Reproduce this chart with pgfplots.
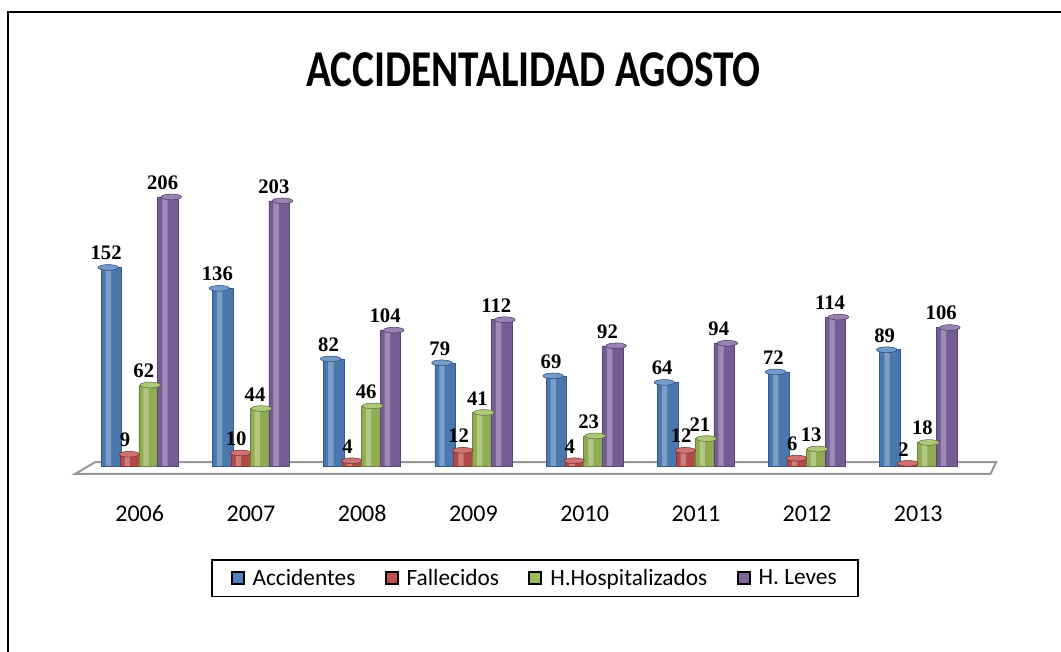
\documentclass[border=0pt]{standalone}
\usepackage{pgfplots}
\pgfplotsset{compat=1.18}
\usepackage{pgfplotstable}
\usepackage{fontspec}
\setmainfont{Carlito}
\newfontfamily\labelfont{Liberation Serif}
\definecolor{cA}{HTML}{4F81BD}
\definecolor{cB}{HTML}{C0504D}
\definecolor{cC}{HTML}{9BBB59}
\definecolor{cD}{HTML}{8064A2}
\pgfplotstableread{
year acc fal hos lev
2006 152 9 62 206
2007 136 10 44 203
2008 82 4 46 104
2009 79 12 41 112
2010 69 4 23 92
2011 64 12 21 94
2012 72 6 13 114
2013 89 2 18 106
}\datatable
\begin{document}
\begin{tikzpicture}
\path[use as bounding box] (0,0) rectangle (795.75pt,489pt);
\draw[line width=1.4pt] (6pt,0) -- (6pt,480pt) -- (796pt,480pt);
\node at (400pt,437pt) {\scalebox{1}[1.25]{\fontsize{31pt}{34pt}\selectfont\bfseries ACCIDENTALIDAD AGOSTO}};
\begin{axis}[
  at={(54.75pt,139.5pt)}, anchor=south west,
  scale only axis, width=684pt, height=225.3pt,
  xmin=2005.4, xmax=2013.6, ymin=0, ymax=230,
  axis line style={draw=none}, tick style={draw=none},
  ytick=\empty,
  xtick={2006,2007,2008,2009,2010,2011,2012,2013},
  xticklabels={2006,2007,2008,2009,2010,2011,2012,2013},
  typeset ticklabels with strut,
  xticklabel style={font=\fontsize{18pt}{20pt}\selectfont, yshift=-20pt},
  clip=false,
  /pgf/number format/assume math mode=true,
  ybar, bar width=15.4pt,
  nodes near coords,
  every node near coord/.append style={font=\labelfont\bfseries\fontsize{15.5pt}{17pt}\selectfont, xshift=-4pt, yshift=2pt},
  legend columns=4,
  legend style={at={(0.5066,-0.373)}, anchor=center, draw=black, line width=1.4pt,
    font=\fontsize{17.5pt}{19pt}\selectfont, inner xsep=14pt, inner ysep=5pt,
    /tikz/every even column/.append style={column sep=20pt}},
  legend image code/.code={\fill[#1] (0pt,-4.5pt) rectangle (9pt,4.5pt); \path (13pt,0pt);},
]
\draw[gray!80, line width=1.5pt, fill=white] (axis cs:2005.42,-6) -- (axis cs:2013.65,-6) -- (axis cs:2013.7,3) -- (axis cs:2005.6,3) -- cycle;
\addlegendimage{fill=cA}\addlegendentry{Accidentes}
\addlegendimage{fill=cB}\addlegendentry{Fallecidos}
\addlegendimage{fill=cC}\addlegendentry{H.Hospitalizados}
\addlegendimage{fill=cD}\addlegendentry{H. Leves}
% main bars
\addplot[forget plot, draw=cA!70!black, fill=cA!92!black, bar shift=-21.2pt] table[x=year,y=acc] {\datatable};
\addplot[forget plot, draw=cB!70!black, fill=cB!92!black, bar shift=-7.05pt] table[x=year,y=fal] {\datatable};
\addplot[forget plot, draw=cC!70!black, fill=cC!92!black, bar shift=7.05pt] table[x=year,y=hos] {\datatable};
\addplot[forget plot, draw=cD!70!black, fill=cD!92!black, bar shift=21.2pt] table[x=year,y=lev] {\datatable};
% highlights
\addplot[forget plot, draw=none, fill=cA!55!white, fill opacity=0.6, bar width=4pt, bar shift=-23.5pt, nodes near coords=] table[x=year,y=acc] {\datatable};
\addplot[forget plot, draw=none, fill=cB!55!white, fill opacity=0.6, bar width=4pt, bar shift=-9.35pt, nodes near coords=] table[x=year,y=fal] {\datatable};
\addplot[forget plot, draw=none, fill=cC!55!white, fill opacity=0.6, bar width=4pt, bar shift=4.75pt, nodes near coords=] table[x=year,y=hos] {\datatable};
\addplot[forget plot, draw=none, fill=cD!55!white, fill opacity=0.6, bar width=4pt, bar shift=18.9pt, nodes near coords=] table[x=year,y=lev] {\datatable};
% cylinder tops
\addplot[forget plot, only marks, mark=*, mark size=7.7pt, mark options={yscale=0.28, fill=cA!80!white, draw=cA!60!black}, nodes near coords=] table[x expr=\thisrow{year}-0.2835, y=acc] {\datatable};
\addplot[forget plot, only marks, mark=*, mark size=7.7pt, mark options={yscale=0.28, fill=cB!80!white, draw=cB!60!black}, nodes near coords=] table[x expr=\thisrow{year}-0.0945, y=fal] {\datatable};
\addplot[forget plot, only marks, mark=*, mark size=7.7pt, mark options={yscale=0.28, fill=cC!80!white, draw=cC!60!black}, nodes near coords=] table[x expr=\thisrow{year}+0.0945, y=hos] {\datatable};
\addplot[forget plot, only marks, mark=*, mark size=7.7pt, mark options={yscale=0.28, fill=cD!80!white, draw=cD!60!black}, nodes near coords=] table[x expr=\thisrow{year}+0.2835, y=lev] {\datatable};
\end{axis}
\end{tikzpicture}
\end{document}
